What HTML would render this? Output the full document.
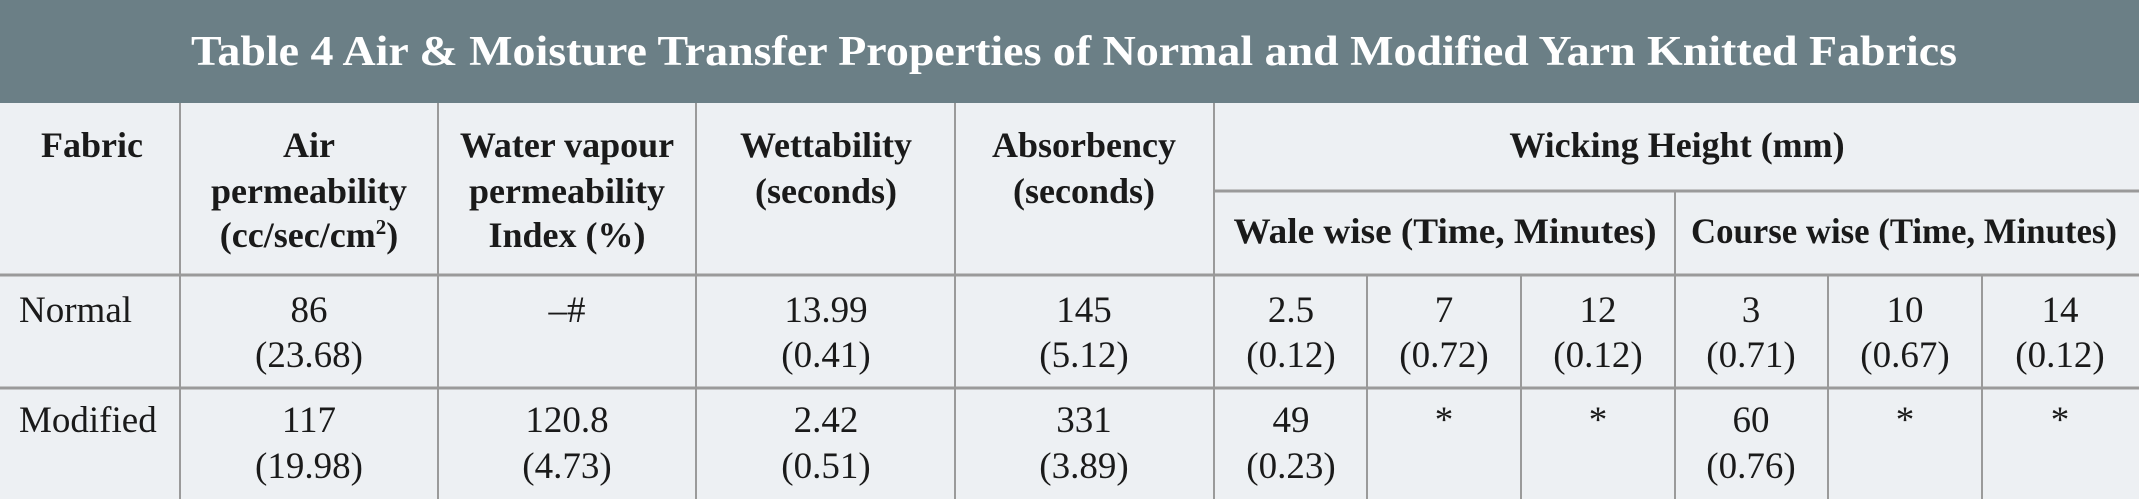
<!DOCTYPE html>
<html><head><meta charset="utf-8"><style>
html,body{margin:0;padding:0;background:#edf0f3;}
svg{display:block;}
text{font-family:"Liberation Serif",serif;fill:#1a1a1a;}
.h{font-weight:bold;font-size:36px;}
.b{font-size:37px;}
</style></head><body>
<svg width="2139" height="499" viewBox="0 0 2139 499" xmlns="http://www.w3.org/2000/svg">
<rect x="0" y="0" width="2139" height="499" fill="#edf0f3"/>
<rect x="0" y="0" width="2139" height="103" fill="#6b7f86"/>
<text x="1074" y="65" text-anchor="middle" textLength="1766" lengthAdjust="spacingAndGlyphs" style="font-weight:bold;font-size:42px;fill:#fff">Table 4 Air &amp; Moisture Transfer Properties of Normal and Modified Yarn Knitted Fabrics</text>
<g stroke="#9a9a9a" stroke-width="2">
<line x1="180" y1="103" x2="180" y2="499"/>
<line x1="438" y1="103" x2="438" y2="499"/>
<line x1="696" y1="103" x2="696" y2="499"/>
<line x1="955" y1="103" x2="955" y2="499"/>
<line x1="1214" y1="103" x2="1214" y2="499"/>
<line x1="1675" y1="191" x2="1675" y2="499"/>
<line x1="1367" y1="275" x2="1367" y2="499"/>
<line x1="1521" y1="275" x2="1521" y2="499"/>
<line x1="1828" y1="275" x2="1828" y2="499"/>
<line x1="1982" y1="275" x2="1982" y2="499"/>
</g>
<g stroke="#9a9a9a" stroke-width="3">
<line x1="1214" y1="191" x2="2139" y2="191"/>
<line x1="0" y1="275" x2="2139" y2="275"/>
<line x1="0" y1="388" x2="2139" y2="388"/>
</g>
<g class="h" text-anchor="middle">
<text class="h" x="92" y="157">Fabric</text>
<text class="h" x="309" y="157">Air</text>
<text class="h" x="309" y="203">permeability</text>
<text class="h" x="309" y="247">(cc/sec/cm<tspan font-size="21" dy="-13">2</tspan><tspan dy="13">)</tspan></text>
<text class="h" x="567" y="157">Water vapour</text>
<text class="h" x="567" y="203">permeability</text>
<text class="h" x="567" y="247">Index (%)</text>
<text class="h" x="826" y="157">Wettability</text>
<text class="h" x="826" y="203">(seconds)</text>
<text class="h" x="1084" y="157">Absorbency</text>
<text class="h" x="1084" y="203">(seconds)</text>
<text class="h" x="1677" y="157">Wicking Height (mm)</text>
<text class="h" x="1445" y="243" textLength="423" lengthAdjust="spacingAndGlyphs">Wale wise (Time, Minutes)</text>
<text class="h" x="1904" y="243" textLength="426" lengthAdjust="spacingAndGlyphs">Course wise (Time, Minutes)</text>
</g>
<g text-anchor="middle">
<text class="b" x="19" y="322" text-anchor="start">Normal</text>
<text class="b" x="309" y="322">86</text><text class="b" x="309" y="367">(23.68)</text>
<text class="b" x="567" y="322">–#</text>
<text class="b" x="826" y="322">13.99</text><text class="b" x="826" y="367">(0.41)</text>
<text class="b" x="1084" y="322">145</text><text class="b" x="1084" y="367">(5.12)</text>
<text class="b" x="1291" y="322">2.5</text><text class="b" x="1291" y="367">(0.12)</text>
<text class="b" x="1444" y="322">7</text><text class="b" x="1444" y="367">(0.72)</text>
<text class="b" x="1598" y="322">12</text><text class="b" x="1598" y="367">(0.12)</text>
<text class="b" x="1751" y="322">3</text><text class="b" x="1751" y="367">(0.71)</text>
<text class="b" x="1905" y="322">10</text><text class="b" x="1905" y="367">(0.67)</text>
<text class="b" x="2060" y="322">14</text><text class="b" x="2060" y="367">(0.12)</text>

<text class="b" x="19" y="432" text-anchor="start">Modified</text>
<text class="b" x="309" y="432">117</text><text class="b" x="309" y="478">(19.98)</text>
<text class="b" x="567" y="432">120.8</text><text class="b" x="567" y="478">(4.73)</text>
<text class="b" x="826" y="432">2.42</text><text class="b" x="826" y="478">(0.51)</text>
<text class="b" x="1084" y="432">331</text><text class="b" x="1084" y="478">(3.89)</text>
<text class="b" x="1291" y="432">49</text><text class="b" x="1291" y="478">(0.23)</text>
<text class="b" x="1444" y="432">*</text>
<text class="b" x="1598" y="432">*</text>
<text class="b" x="1751" y="432">60</text><text class="b" x="1751" y="478">(0.76)</text>
<text class="b" x="1905" y="432">*</text>
<text class="b" x="2060" y="432">*</text>
</g>
</svg>
</body></html>
